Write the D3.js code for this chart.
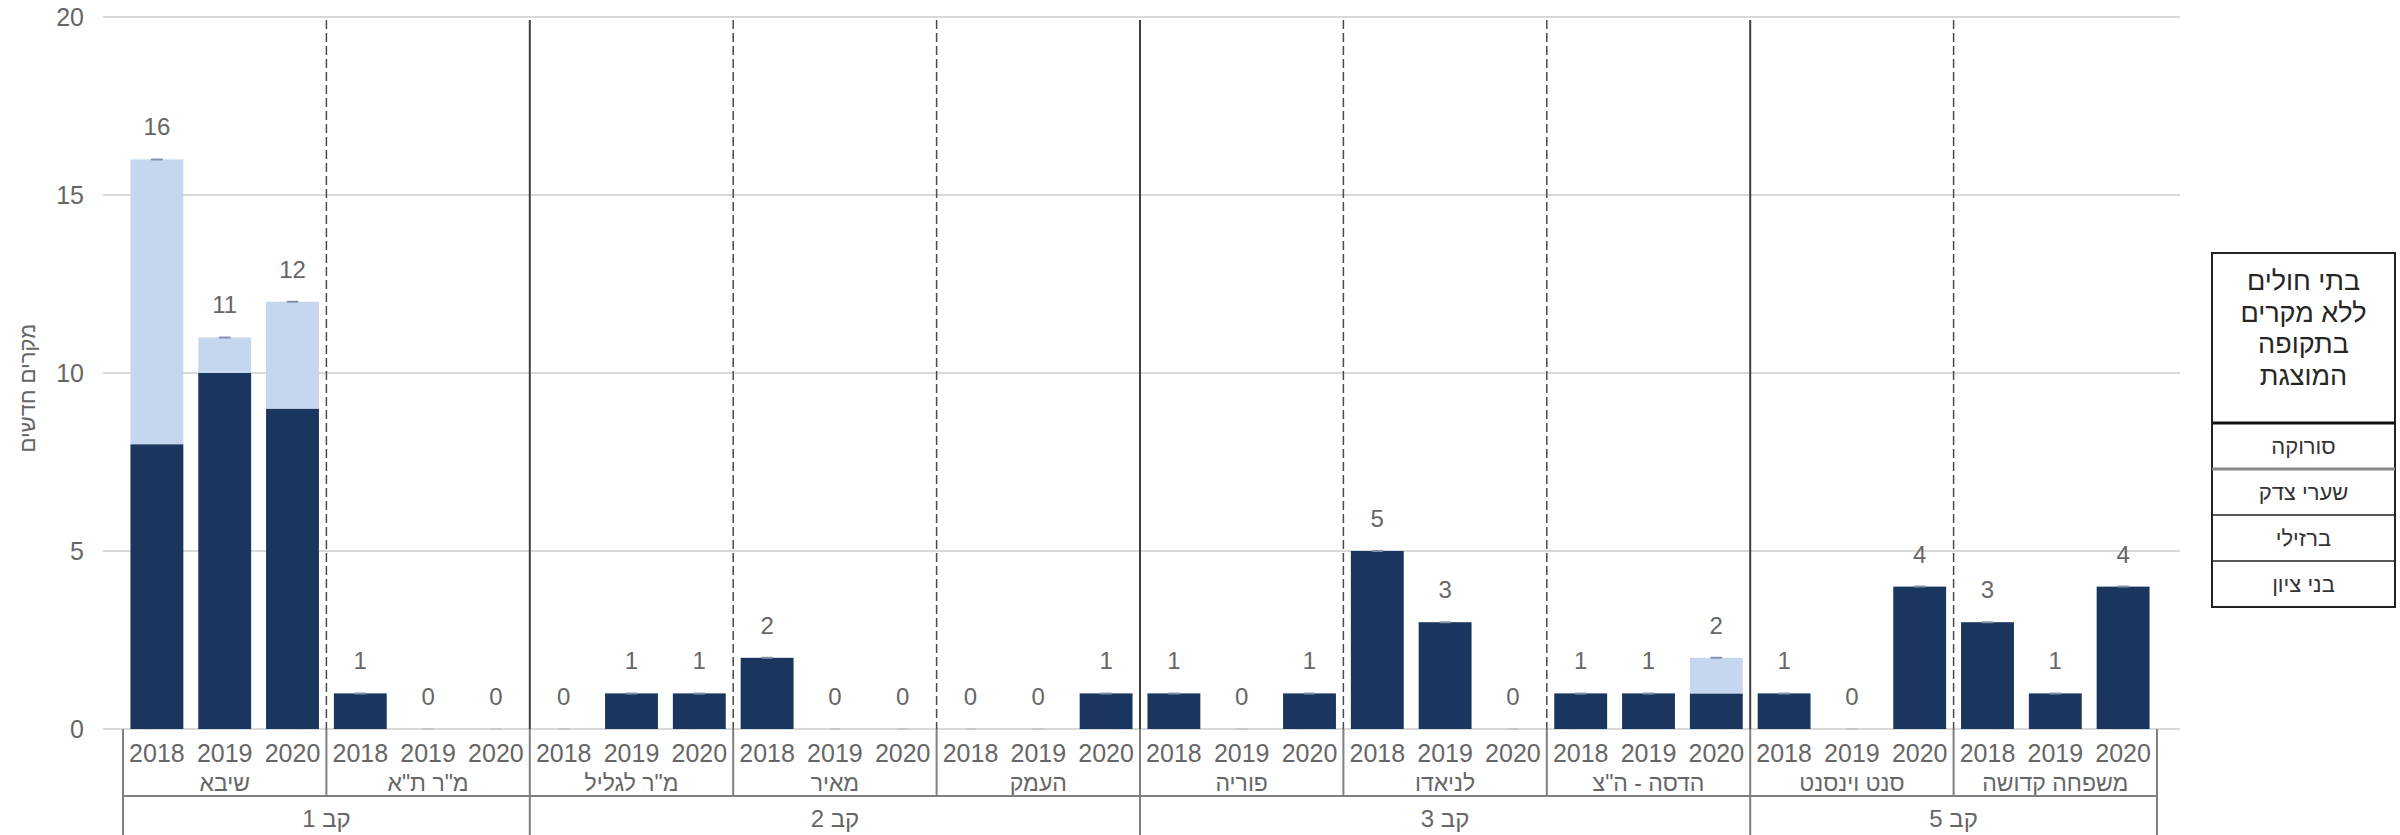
<!DOCTYPE html>
<html><head><meta charset="utf-8">
<script src="https://cdn.jsdelivr.net/npm/d3@7"></script>
<style>html,body{margin:0;padding:0;background:#fff;} svg{display:block;font-family:"Liberation Sans",Arial,"DejaVu Sans",sans-serif;}</style>
</head><body><svg id="chart" width="2400" height="835"></svg>
<script>
// ---- data ----
const hospitals = ['שיבא','מ"ר ת"א','מ"ר לגליל','מאיר','העמק','פוריה','לניאדו','הדסה - ה"צ','סנט וינסנט','משפחה קדושה'];
const clusterNames = ['קב 1','קב 2','קב 3','קב 5'];
const clusterSizes = [2,3,3,2];
const years = ['2018','2019','2020'];
// dark (bottom) series, per hospital, per year
const darkValues = [[8,10,9],[1,0,0],[0,1,1],[2,0,0],[0,0,1],[1,0,1],[5,3,0],[1,1,1],[1,0,4],[3,1,4]];
// light (top) series
const lightValues = [[8,1,3],[0,0,0],[0,0,0],[0,0,0],[0,0,0],[0,0,0],[0,0,0],[0,0,1],[0,0,0],[0,0,0]];
const yTicks = [0,5,10,15,20];
const yTitle = 'מקרים חדשים';
const legendTitleLines = ['בתי חולים','ללא מקרים','בתקופה','המוצגת'];
const legendItems = ['סורוקה','שערי צדק','ברזילי','בני ציון'];

// ---- build ----
const rows = [];
hospitals.forEach((h,i)=>years.forEach((yr,j)=>rows.push({hospital:h, year:yr, dark:darkValues[i][j], light:lightValues[i][j]})));

const svg = d3.select('#chart');
const DARK = '#1b365e', LIGHT = '#c5d7ee', TXT = '#666666';
const y = d3.scaleLinear().domain([0,20]).range([729,17]);
const xH = d3.scaleBand().domain(hospitals).range([123,2157]).paddingInner(0).paddingOuter(0);
const xY = d3.scaleBand().domain(years).range([0,xH.bandwidth()]).paddingInner(0.22).paddingOuter(0.11);
const xC = r => xH(r.hospital) + xY(r.year);

// gridlines
svg.append('g').selectAll('line').data(yTicks).join('line')
  .attr('x1',103).attr('x2',2180).attr('y1',d=>y(d)).attr('y2',d=>y(d))
  .attr('stroke','#d9d9d9').attr('stroke-width',2);

// y axis labels
const yAxis = svg.append('g').attr('transform','translate(93,0)')
  .call(d3.axisLeft(y).tickValues(yTicks).tickSize(0).tickPadding(9));
yAxis.select('.domain').remove();
yAxis.selectAll('text').attr('font-size',25).attr('fill',TXT).attr('font-family','"Liberation Sans",Arial,sans-serif');

// y title
svg.append('text').attr('transform','translate(35,388) rotate(-90)')
  .attr('text-anchor','middle').attr('direction','rtl').attr('font-size',22).attr('fill',TXT).text(yTitle);

// stacked bars
const stack = d3.stack().keys(['dark','light'])(rows);
const colors = {dark:DARK, light:LIGHT};
svg.append('g').selectAll('g').data(stack).join('g').attr('fill',s=>colors[s.key])
  .selectAll('rect').data(s=>s.filter(d=>d[1]>d[0])).join('rect')
  .attr('x',d=>xC(d.data)).attr('width',xY.bandwidth())
  .attr('y',d=>y(d[1])).attr('height',d=>y(d[0])-y(d[1]));

// small marks on top of each bar
svg.append('g').selectAll('rect').data(rows).join('rect')
  .attr('x',d=>xC(d)+xY.bandwidth()/2-6).attr('width',12)
  .attr('y',d=>y(d.dark+d.light)-1).attr('height',2)
  .attr('fill',d=>(d.dark+d.light)>0?'#8093ad':'#c8c8c8').attr('rx',1);

// separators in plot
const boundaries = [];
let acc = 0; const clusterStarts = new Set();
clusterSizes.forEach(s=>{clusterStarts.add(acc); acc+=s;});
hospitals.forEach((h,i)=>{ if(i>0) boundaries.push({x:xH(h), solid:clusterStarts.has(i)}); });
svg.append('g').selectAll('line').data(boundaries).join('line')
  .attr('x1',d=>d.x).attr('x2',d=>d.x).attr('y1',20).attr('y2',729)
  .attr('stroke',d=>d.solid?'#3f3f3f':'#4a4a4a')
  .attr('stroke-width',d=>d.solid?2:1.5)
  .attr('stroke-dasharray',d=>d.solid?null:'9,4');

// data labels
svg.append('g').selectAll('text').data(rows).join('text')
  .attr('x',d=>xC(d)+xY.bandwidth()/2).attr('y',d=>y(d.dark+d.light)-24)
  .attr('text-anchor','middle').attr('font-size',24).attr('fill',TXT)
  .text(d=>d.dark+d.light);

// category axis
const cat = svg.append('g');
const AX = '#808080';
cat.selectAll('text.yr').data(rows).join('text').attr('class','yr')
  .attr('x',d=>xC(d)+xY.bandwidth()/2).attr('y',762)
  .attr('text-anchor','middle').attr('font-size',25).attr('fill',TXT).text(d=>d.year);
cat.selectAll('text.hn').data(hospitals).join('text').attr('class','hn')
  .attr('x',h=>xH(h)+xH.bandwidth()/2).attr('y',791)
  .attr('text-anchor','middle').attr('direction','rtl').attr('font-size',23).attr('fill',TXT).text(h=>h);
// cluster positions
const clusterData = [];
acc = 0;
clusterNames.forEach((c,i)=>{ const a=hospitals[acc], b=hospitals[acc+clusterSizes[i]-1];
  clusterData.push({name:c, x0:xH(a), x1:xH(b)+xH.bandwidth()}); acc+=clusterSizes[i]; });
cat.selectAll('text.cl').data(clusterData).join('text').attr('class','cl')
  .attr('x',d=>(d.x0+d.x1)/2).attr('y',827)
  .attr('text-anchor','middle').attr('direction','rtl').attr('font-size',24).attr('fill',TXT).text(d=>d.name);
// axis lines
cat.append('line').attr('x1',xH.range()[0]).attr('x2',xH.range()[1]).attr('y1',796).attr('y2',796)
  .attr('stroke',AX).attr('stroke-width',2);
cat.selectAll('line.hb').data(boundaries.filter(b=>!b.solid)).join('line').attr('class','hb')
  .attr('x1',d=>d.x).attr('x2',d=>d.x).attr('y1',729).attr('y2',796).attr('stroke',AX).attr('stroke-width',2);
const clusterEdges = [xH.range()[0], ...clusterData.map(d=>d.x1)];
cat.selectAll('line.cb').data(clusterEdges).join('line').attr('class','cb')
  .attr('x1',d=>d).attr('x2',d=>d).attr('y1',729).attr('y2',835).attr('stroke',AX).attr('stroke-width',2);

// legend table
const lg = svg.append('g');
const LX0=2212, LX1=2395, LT=253, LH=423, rowH=46;
const lcx=(LX0+LX1)/2;
lg.append('rect').attr('x',LX0).attr('y',LT).attr('width',LX1-LX0).attr('height',LH-LT+rowH*legendItems.length)
  .attr('fill','none').attr('stroke','#222').attr('stroke-width',2);
lg.selectAll('text.t').data(legendTitleLines).join('text').attr('class','t')
  .attr('x',lcx).attr('y',(d,i)=>290+i*31.5).attr('text-anchor','middle').attr('direction','rtl')
  .attr('font-size',27).attr('fill','#262626').text(d=>d);
lg.append('line').attr('x1',LX0).attr('x2',LX1).attr('y1',LH).attr('y2',LH).attr('stroke','#111').attr('stroke-width',3);
lg.selectAll('line.r').data(legendItems.slice(1)).join('line').attr('class','r')
  .attr('x1',LX0).attr('x2',LX1).attr('y1',(d,i)=>LH+rowH*(i+1)).attr('y2',(d,i)=>LH+rowH*(i+1))
  .attr('stroke',(d,i)=>i===0?'#888':'#222').attr('stroke-width',(d,i)=>i===0?3:1.5);
lg.selectAll('text.li').data(legendItems).join('text').attr('class','li')
  .attr('x',lcx).attr('y',(d,i)=>LH+rowH*i+rowH/2+8).attr('text-anchor','middle').attr('direction','rtl')
  .attr('font-size',22).attr('fill','#333').text(d=>d);
</script></body></html>
